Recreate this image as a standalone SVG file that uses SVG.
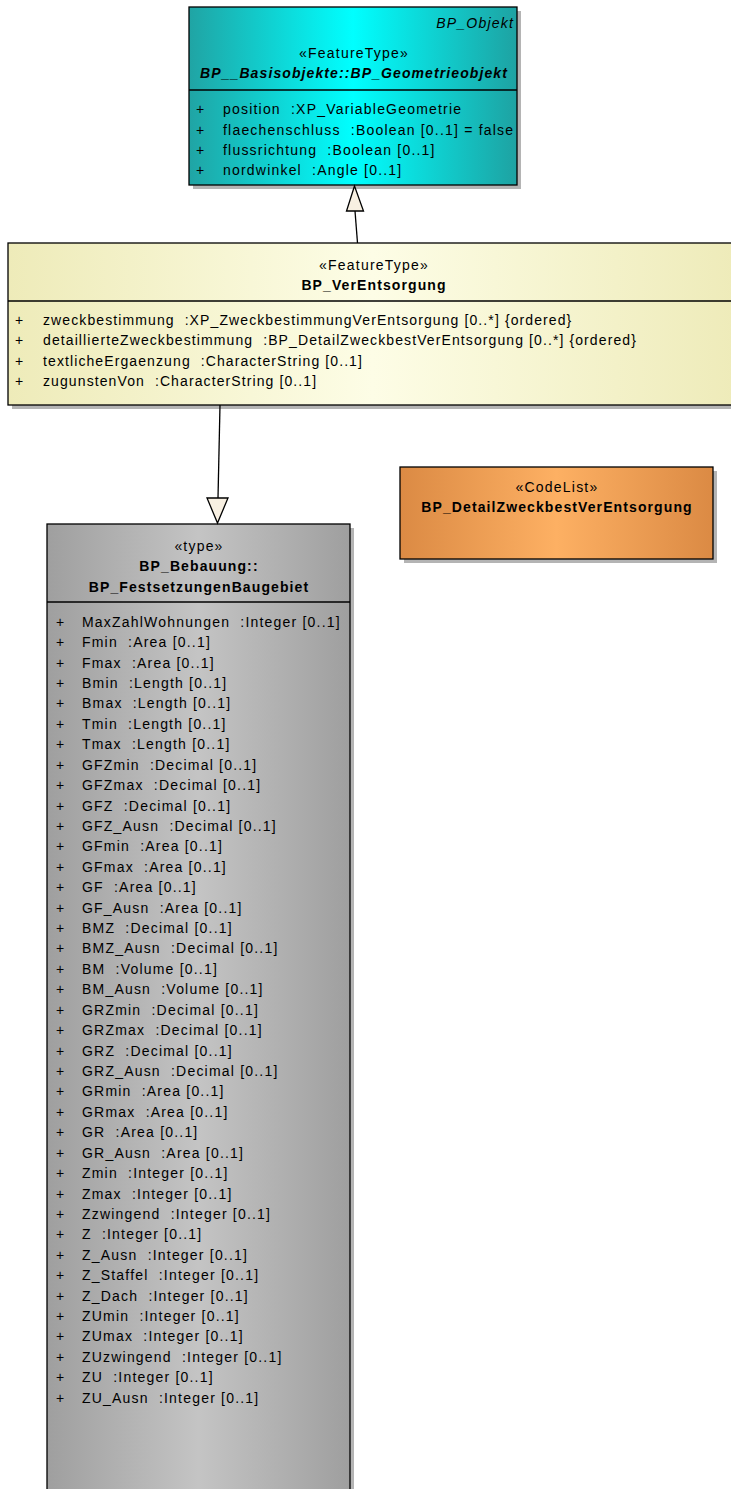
<svg xmlns="http://www.w3.org/2000/svg" width="731" height="1489" viewBox="0 0 731 1489">
<style>
text{font-family:"Liberation Sans",Arial,sans-serif;font-size:14px;letter-spacing:1.2px;fill:#000;white-space:pre}
.c{text-anchor:middle}
.b{font-weight:bold;letter-spacing:1.1px}
.i{font-style:italic}
.r{text-anchor:end}
.m{letter-spacing:1.1px}
.box{stroke:#000;stroke-width:1.3}
.sh{fill:#b4b4b4}
.sep{stroke:#000;stroke-width:1.3}
.ln{stroke:#000;stroke-width:1.3;fill:none}
.tri{fill:#f8f0e2;stroke:#000;stroke-width:1.3}
</style>
<defs>
<linearGradient id="gTeal" x1="0" y1="0" x2="1" y2="0">
<stop offset="0" stop-color="#20a4a4"/><stop offset="0.5" stop-color="#00ffff"/><stop offset="1" stop-color="#1ea2a2"/>
</linearGradient>
<linearGradient id="gYel" x1="0" y1="0" x2="1" y2="0">
<stop offset="0" stop-color="#eeebb9"/><stop offset="0.5" stop-color="#fdfde6"/><stop offset="1" stop-color="#eeebb9"/>
</linearGradient>
<linearGradient id="gOra" x1="0" y1="0" x2="1" y2="0">
<stop offset="0" stop-color="#db8a44"/><stop offset="0.5" stop-color="#fdb063"/><stop offset="1" stop-color="#db8a44"/>
</linearGradient>
<linearGradient id="gGray" x1="0" y1="0" x2="1" y2="0">
<stop offset="0" stop-color="#9f9f9f"/><stop offset="0.5" stop-color="#c4c4c4"/><stop offset="1" stop-color="#9f9f9f"/>
</linearGradient>
</defs>
<rect width="731" height="1489" fill="#fff"/>

<g id="BP_Geometrieobjekt">
<rect class="sh" x="193" y="11" width="328" height="178"/>
<rect class="box" x="189" y="7" width="328" height="178" fill="url(#gTeal)"/>
<line class="sep" x1="189" y1="90" x2="517" y2="90"/>
<text class="r i" x="514" y="28">BP_Objekt</text>
<text class="c" x="354" y="58">«FeatureType»</text>
<text class="c b i" x="354" y="78">BP__Basisobjekte::BP_Geometrieobjekt</text>
<text x="196" y="114">+</text><text x="223" y="114">position  :XP_VariableGeometrie</text>
<text x="196" y="135">+</text><text x="223" y="135">flaechenschluss  :Boolean [0..1] = false</text>
<text x="196" y="155">+</text><text x="223" y="155">flussrichtung  :Boolean [0..1]</text>
<text x="196" y="175">+</text><text x="223" y="175">nordwinkel  :Angle [0..1]</text>
</g>

<g id="BP_VerEntsorgung">
<rect class="sh" x="12" y="247" width="730" height="162"/>
<rect class="box" x="8" y="243" width="730" height="162" fill="url(#gYel)"/>
<line class="sep" x1="8" y1="301" x2="738" y2="301"/>
<text class="c" x="374" y="270">«FeatureType»</text>
<text class="c b" x="374" y="290">BP_VerEntsorgung</text>
<text class="m" x="15" y="325">+</text><text class="m" x="43" y="325">zweckbestimmung  :XP_ZweckbestimmungVerEntsorgung [0..*] {ordered}</text>
<text class="m" x="15" y="345">+</text><text class="m" x="43" y="345">detaillierteZweckbestimmung  :BP_DetailZweckbestVerEntsorgung [0..*] {ordered}</text>
<text class="m" x="15" y="366">+</text><text class="m" x="43" y="366">textlicheErgaenzung  :CharacterString [0..1]</text>
<text class="m" x="15" y="386">+</text><text class="m" x="43" y="386">zugunstenVon  :CharacterString [0..1]</text>
</g>

<g id="BP_DetailZweckbestVerEntsorgung">
<rect class="sh" x="404" y="471" width="313" height="92"/>
<rect class="box" x="400" y="467" width="313" height="92" fill="url(#gOra)"/>
<text class="c" x="557" y="492">«CodeList»</text>
<text class="c b" x="557" y="512">BP_DetailZweckbestVerEntsorgung</text>
</g>

<g id="BP_FestsetzungenBaugebiet">
<rect class="sh" x="51" y="528" width="303" height="980"/>
<rect class="box" x="47" y="524" width="303" height="980" fill="url(#gGray)"/>
<line class="sep" x1="47" y1="602" x2="350" y2="602"/>
<text class="c" x="199" y="551">«type»</text>
<text class="c b" x="199" y="571">BP_Bebauung::</text>
<text class="c b" x="199" y="592">BP_FestsetzungenBaugebiet</text>
<g>
<text x="56" y="627">+</text><text x="82" y="627">MaxZahlWohnungen  :Integer [0..1]</text>
<text x="56" y="647.1">+</text><text x="82" y="647.1">Fmin  :Area [0..1]</text>
<text x="56" y="667.5">+</text><text x="82" y="667.5">Fmax  :Area [0..1]</text>
<text x="56" y="688">+</text><text x="82" y="688">Bmin  :Length [0..1]</text>
<text x="56" y="708.4">+</text><text x="82" y="708.4">Bmax  :Length [0..1]</text>
<text x="56" y="728.8">+</text><text x="82" y="728.8">Tmin  :Length [0..1]</text>
<text x="56" y="749.2">+</text><text x="82" y="749.2">Tmax  :Length [0..1]</text>
<text x="56" y="769.6">+</text><text x="82" y="769.6">GFZmin  :Decimal [0..1]</text>
<text x="56" y="790">+</text><text x="82" y="790">GFZmax  :Decimal [0..1]</text>
<text x="56" y="810.5">+</text><text x="82" y="810.5">GFZ  :Decimal [0..1]</text>
<text x="56" y="830.9">+</text><text x="82" y="830.9">GFZ_Ausn  :Decimal [0..1]</text>
<text x="56" y="851.3">+</text><text x="82" y="851.3">GFmin  :Area [0..1]</text>
<text x="56" y="871.7">+</text><text x="82" y="871.7">GFmax  :Area [0..1]</text>
<text x="56" y="892.1">+</text><text x="82" y="892.1">GF  :Area [0..1]</text>
<text x="56" y="912.6">+</text><text x="82" y="912.6">GF_Ausn  :Area [0..1]</text>
<text x="56" y="933">+</text><text x="82" y="933">BMZ  :Decimal [0..1]</text>
<text x="56" y="953.4">+</text><text x="82" y="953.4">BMZ_Ausn  :Decimal [0..1]</text>
<text x="56" y="973.8">+</text><text x="82" y="973.8">BM  :Volume [0..1]</text>
<text x="56" y="994.3">+</text><text x="82" y="994.3">BM_Ausn  :Volume [0..1]</text>
<text x="56" y="1014.7">+</text><text x="82" y="1014.7">GRZmin  :Decimal [0..1]</text>
<text x="56" y="1035.1">+</text><text x="82" y="1035.1">GRZmax  :Decimal [0..1]</text>
<text x="56" y="1055.5">+</text><text x="82" y="1055.5">GRZ  :Decimal [0..1]</text>
<text x="56" y="1076">+</text><text x="82" y="1076">GRZ_Ausn  :Decimal [0..1]</text>
<text x="56" y="1096.4">+</text><text x="82" y="1096.4">GRmin  :Area [0..1]</text>
<text x="56" y="1116.8">+</text><text x="82" y="1116.8">GRmax  :Area [0..1]</text>
<text x="56" y="1137.2">+</text><text x="82" y="1137.2">GR  :Area [0..1]</text>
<text x="56" y="1157.6">+</text><text x="82" y="1157.6">GR_Ausn  :Area [0..1]</text>
<text x="56" y="1178">+</text><text x="82" y="1178">Zmin  :Integer [0..1]</text>
<text x="56" y="1198.5">+</text><text x="82" y="1198.5">Zmax  :Integer [0..1]</text>
<text x="56" y="1218.9">+</text><text x="82" y="1218.9">Zzwingend  :Integer [0..1]</text>
<text x="56" y="1239.3">+</text><text x="82" y="1239.3">Z  :Integer [0..1]</text>
<text x="56" y="1259.7">+</text><text x="82" y="1259.7">Z_Ausn  :Integer [0..1]</text>
<text x="56" y="1280.1">+</text><text x="82" y="1280.1">Z_Staffel  :Integer [0..1]</text>
<text x="56" y="1300.6">+</text><text x="82" y="1300.6">Z_Dach  :Integer [0..1]</text>
<text x="56" y="1321">+</text><text x="82" y="1321">ZUmin  :Integer [0..1]</text>
<text x="56" y="1341.4">+</text><text x="82" y="1341.4">ZUmax  :Integer [0..1]</text>
<text x="56" y="1361.8">+</text><text x="82" y="1361.8">ZUzwingend  :Integer [0..1]</text>
<text x="56" y="1382.2">+</text><text x="82" y="1382.2">ZU  :Integer [0..1]</text>
<text x="56" y="1402.7">+</text><text x="82" y="1402.7">ZU_Ausn  :Integer [0..1]</text>
</g>
</g>

<g id="connectors">
<line class="ln" x1="357.5" y1="243" x2="355" y2="211"/>
<polygon class="tri" points="354.5,186 346.5,211 363.5,211"/>
<line class="ln" x1="220" y1="405" x2="218" y2="498"/>
<polygon class="tri" points="207,498 228,498 217.5,523"/>
</g>
</svg>
